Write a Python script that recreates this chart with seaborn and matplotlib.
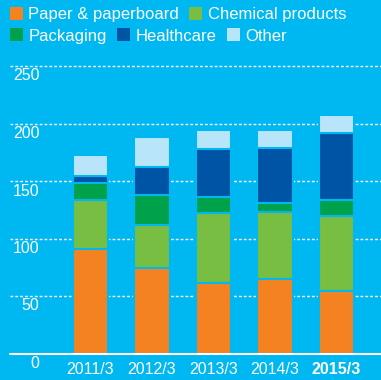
import matplotlib
matplotlib.use("Agg")
import matplotlib.pyplot as plt
import matplotlib.transforms as mtransforms
from matplotlib.patches import Patch
import numpy as np
import seaborn as sns

# Net sales by segment (billion yen), fiscal years ending March
years = ["2011/3", "2012/3", "2013/3", "2014/3", "2015/3"]
paper = [91, 74, 61.5, 65, 54.5]
chemical = [42.5, 38, 61, 58, 65]
packaging = [15, 26, 14, 7.5, 14]
healthcare = [6, 24.5, 41.5, 48.5, 58.5]
other = [18.5, 26, 16.5, 15, 15.5]
segments = ["Paper & paperboard", "Chemical products", "Packaging", "Healthcare", "Other"]
yticks = [0, 50, 100, 150, 200, 250]

BG = "#00B8F1"
colors = ["#F58220", "#77BE43", "#00A14B", "#0054A6", "#B9E5FB"]

sns.set_theme(style="white")
plt.rcParams["font.family"] = ["Liberation Sans", "DejaVu Sans"]

W, H = 381, 380
fig = plt.figure(figsize=(W / 100, H / 100), dpi=100, facecolor=BG)
px_per_unit = 1.15
ytop = 255
ax = fig.add_axes([10 / W, 26.5 / H, 371 / W, ytop * px_per_unit / H])
ax.set_facecolor(BG)

# stacked bars: draw cumulative totals from the top layer down
cum = np.cumsum([paper, chemical, packaging, healthcare, other], axis=0)
for i in reversed(range(len(segments))):
    sns.barplot(x=years, y=cum[i], color=colors[i], width=0.57, saturation=1,
                edgecolor=BG, linewidth=1.5, ax=ax, zorder=3)

ax.set_xlim(-1.309, 4.724)
ax.set_ylim(0, ytop)
ax.set_yticks(yticks[1:])
ax.yaxis.grid(True, linestyle=(0, (2, 1.5)), color="white", linewidth=1)
ax.set_axisbelow(True)
ax.axhline(0, color="white", linewidth=1.5, zorder=4, clip_on=False)
for s in ax.spines.values():
    s.set_visible(False)

ax.tick_params(axis="y", length=0, labelleft=False)
ax.tick_params(axis="x", length=0, pad=6, labelsize=11.5, labelcolor="white")
for lbl in ax.get_xticklabels():
    if lbl.get_text() == years[-1]:
        lbl.set_fontweight("bold")
ax.set_xlabel("")
ax.set_ylabel("")

# y labels sit just below their gridlines
trans = mtransforms.blended_transform_factory(ax.transAxes, ax.transData) + \
    mtransforms.ScaledTranslation(0, -10 / 100, fig.dpi_scale_trans)
for v in yticks:
    ax.text(29.5 / 371, v, str(v), transform=trans, ha="right", va="center",
            fontsize=11.5, color="white")

handles = [Patch(facecolor=c, edgecolor="none") for c in colors]
common = dict(loc="upper left", frameon=False, fontsize=12, labelcolor="white",
              handlelength=0.78, handleheight=0.78, handletextpad=0.36,
              columnspacing=0.6, borderpad=0, borderaxespad=0,
              bbox_transform=fig.transFigure)
fig.legend(handles[:2], segments[:2], ncol=2, bbox_to_anchor=(9.5 / W, 1 - 7 / H), **common)
fig.legend(handles[2:], segments[2:], ncol=3, bbox_to_anchor=(9.5 / W, 1 - 28.5 / H), **common)

fig.savefig("out.png", dpi=100, facecolor=BG)
